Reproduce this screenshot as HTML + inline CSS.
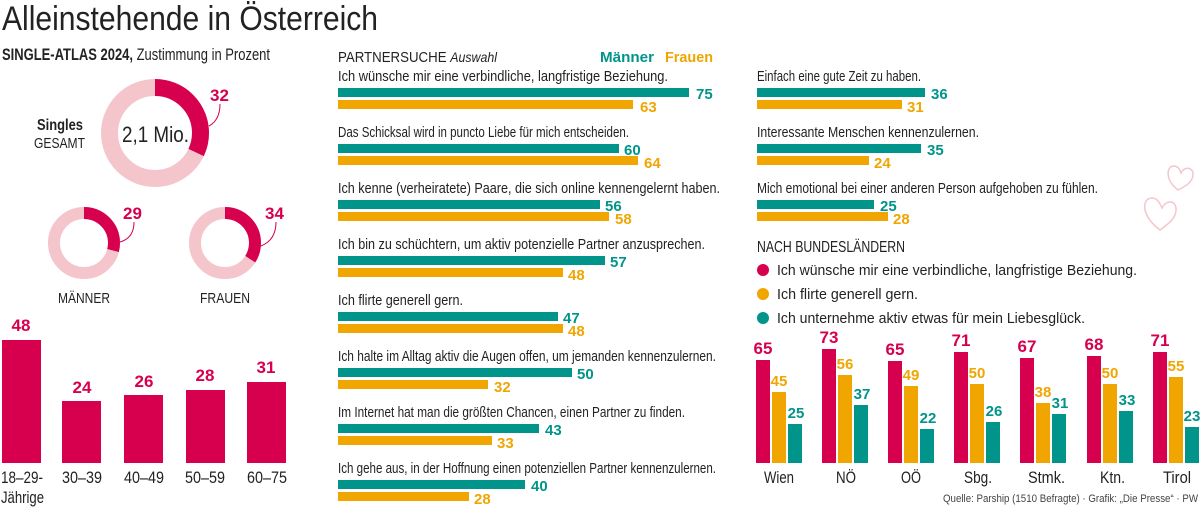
<!DOCTYPE html>
<html><head><meta charset="utf-8"><style>
html,body{margin:0;padding:0;background:#fff;}
svg{display:block;font-family:"Liberation Sans Narrow","Liberation Sans",sans-serif;}
.l{font-size:14px;fill:#222;}
.vt{font-size:15px;font-weight:bold;fill:#00948a;}
.vo{font-size:15px;font-weight:bold;fill:#f0a500;}
.vr{font-size:17px;font-weight:bold;fill:#d6004f;}
</style></head><body>
<svg width="1200" height="507" viewBox="0 0 1200 507">
<text x="2" y="30" font-size="34" fill="#222" textLength="376" lengthAdjust="spacingAndGlyphs">Alleinstehende in Österreich</text>
<text x="2" y="60" font-size="17" fill="#222" textLength="268" lengthAdjust="spacingAndGlyphs"><tspan font-weight="bold">SINGLE-ATLAS 2024,</tspan> Zustimmung in Prozent</text>
<!-- donuts -->
<g fill="none">
<circle cx="155" cy="133" r="45.5" stroke="#f5c5cc" stroke-width="17"/>
<circle cx="155" cy="133" r="45.5" stroke="#d6004f" stroke-width="17" stroke-dasharray="91.5 400" transform="rotate(-90 155 133)"/>
<circle cx="84" cy="243" r="30" stroke="#f5c5cc" stroke-width="12"/>
<circle cx="84" cy="243" r="30" stroke="#d6004f" stroke-width="12" stroke-dasharray="54.7 400" transform="rotate(-90 84 243)"/>
<circle cx="225" cy="243" r="30" stroke="#f5c5cc" stroke-width="12"/>
<circle cx="225" cy="243" r="30" stroke="#d6004f" stroke-width="12" stroke-dasharray="64.1 400" transform="rotate(-90 225 243)"/>
<path d="M209 126 Q220 120 220 104" stroke="#d6004f" stroke-width="1"/>
<path d="M120 242 Q134 238 134 222" stroke="#d6004f" stroke-width="1"/>
<path d="M261 246 Q276 240 276 222" stroke="#d6004f" stroke-width="1"/>
</g>
<text x="210" y="101" class="vr">32</text>
<text x="123" y="219" class="vr">29</text>
<text x="265" y="219" class="vr">34</text>
<text x="122" y="142" font-size="22" fill="#222" textLength="67" lengthAdjust="spacingAndGlyphs">2,1 Mio.</text>
<text x="37" y="130" font-size="16" font-weight="bold" fill="#222" textLength="46" lengthAdjust="spacingAndGlyphs">Singles</text>
<text x="34" y="148" font-size="15" fill="#222" textLength="51" lengthAdjust="spacingAndGlyphs">GESAMT</text>
<text x="58" y="303" font-size="15" fill="#222" textLength="52" lengthAdjust="spacingAndGlyphs">MÄNNER</text>
<text x="200" y="303" font-size="15" fill="#222" textLength="50" lengthAdjust="spacingAndGlyphs">FRAUEN</text>
<!-- age bars -->
<g fill="#d6004f">
<rect x="2" y="340" width="39" height="123"/>
<rect x="62" y="401" width="39" height="62"/>
<rect x="124" y="395" width="39" height="68"/>
<rect x="186" y="390" width="39" height="73"/>
<rect x="247" y="382" width="39" height="81"/>
</g>
<g text-anchor="middle">
<text x="21" y="331" class="vr">48</text><text x="82" y="393" class="vr">24</text><text x="144" y="387" class="vr">26</text><text x="205" y="381" class="vr">28</text><text x="266" y="373" class="vr">31</text>
</g>
<g font-size="17" fill="#222">
<text x="1" y="483" textLength="42" lengthAdjust="spacingAndGlyphs">18–29-</text><text x="1" y="503" textLength="43" lengthAdjust="spacingAndGlyphs">Jährige</text>
<text x="62" y="483" textLength="40" lengthAdjust="spacingAndGlyphs">30–39</text><text x="124" y="483" textLength="40" lengthAdjust="spacingAndGlyphs">40–49</text><text x="185" y="483" textLength="40" lengthAdjust="spacingAndGlyphs">50–59</text><text x="247" y="483" textLength="40" lengthAdjust="spacingAndGlyphs">60–75</text>
</g>
<!-- partnersuche -->
<text x="338" y="62" font-size="15" fill="#222" textLength="159" lengthAdjust="spacingAndGlyphs">PARTNERSUCHE <tspan font-style="italic" font-size="14">Auswahl</tspan></text>
<text x="600" y="62" font-size="15" font-weight="bold" fill="#00948a" textLength="54" lengthAdjust="spacingAndGlyphs">Männer</text>
<text x="665" y="62" font-size="15" font-weight="bold" fill="#f0a500" textLength="48" lengthAdjust="spacingAndGlyphs">Frauen</text>
<g font-size="15" fill="#222">
<text x="338" y="81" textLength="330" lengthAdjust="spacingAndGlyphs">Ich wünsche mir eine verbindliche, langfristige Beziehung.</text>
<text x="338" y="137" textLength="291" lengthAdjust="spacingAndGlyphs">Das Schicksal wird in puncto Liebe für mich entscheiden.</text>
<text x="338" y="193" textLength="382" lengthAdjust="spacingAndGlyphs">Ich kenne (verheiratete) Paare, die sich online kennengelernt haben.</text>
<text x="338" y="249" textLength="367" lengthAdjust="spacingAndGlyphs">Ich bin zu schüchtern, um aktiv potenzielle Partner anzusprechen.</text>
<text x="338" y="305" textLength="125" lengthAdjust="spacingAndGlyphs">Ich flirte generell gern.</text>
<text x="338" y="361" textLength="378" lengthAdjust="spacingAndGlyphs">Ich halte im Alltag aktiv die Augen offen, um jemanden kennenzulernen.</text>
<text x="338" y="417" textLength="347" lengthAdjust="spacingAndGlyphs">Im Internet hat man die größten Chancen, einen Partner zu finden.</text>
<text x="338" y="473" textLength="378" lengthAdjust="spacingAndGlyphs">Ich gehe aus, in der Hoffnung einen potenziellen Partner kennenzulernen.</text>
<text x="757" y="81" textLength="164" lengthAdjust="spacingAndGlyphs">Einfach eine gute Zeit zu haben.</text>
<text x="757" y="137" textLength="222" lengthAdjust="spacingAndGlyphs">Interessante Menschen kennenzulernen.</text>
<text x="757" y="193" textLength="341" lengthAdjust="spacingAndGlyphs">Mich emotional bei einer anderen Person aufgehoben zu fühlen.</text>
</g>
<g fill="#00948a">
<rect x="338" y="88" width="351" height="9"/>
<rect x="338" y="144" width="281" height="9"/>
<rect x="338" y="200" width="262" height="9"/>
<rect x="338" y="256" width="267" height="9"/>
<rect x="338" y="312" width="220" height="9"/>
<rect x="338" y="368" width="234" height="9"/>
<rect x="338" y="424" width="201" height="9"/>
<rect x="338" y="480" width="187" height="9"/>
<rect x="757" y="88" width="168" height="9"/>
<rect x="757" y="144" width="164" height="9"/>
<rect x="757" y="200" width="117" height="9"/>
</g>
<g fill="#f0a500">
<rect x="338" y="100" width="295" height="9"/>
<rect x="338" y="156" width="300" height="9"/>
<rect x="338" y="212" width="271" height="9"/>
<rect x="338" y="268" width="225" height="9"/>
<rect x="338" y="324" width="225" height="9"/>
<rect x="338" y="380" width="150" height="9"/>
<rect x="338" y="436" width="154" height="9"/>
<rect x="338" y="492" width="131" height="9"/>
<rect x="757" y="100" width="145" height="9"/>
<rect x="757" y="156" width="112" height="9"/>
<rect x="757" y="212" width="131" height="9"/>
</g>
<g>
<text x="696" y="99" class="vt">75</text><text x="640" y="112" class="vo">63</text>
<text x="624" y="155" class="vt">60</text><text x="644" y="168" class="vo">64</text>
<text x="605" y="211" class="vt">56</text><text x="615" y="224" class="vo">58</text>
<text x="610" y="267" class="vt">57</text><text x="568" y="280" class="vo">48</text>
<text x="563" y="323" class="vt">47</text><text x="568" y="336" class="vo">48</text>
<text x="577" y="379" class="vt">50</text><text x="494" y="392" class="vo">32</text>
<text x="545" y="435" class="vt">43</text><text x="497" y="448" class="vo">33</text>
<text x="531" y="491" class="vt">40</text><text x="474" y="504" class="vo">28</text>
<text x="931" y="99" class="vt">36</text><text x="907" y="112" class="vo">31</text>
<text x="927" y="155" class="vt">35</text><text x="874" y="168" class="vo">24</text>
<text x="880" y="211" class="vt">25</text><text x="893" y="224" class="vo">28</text>
</g>
<!-- hearts -->
<g fill="none" stroke="#f5c5cc" stroke-width="1.5">
<path d="M1160 230 C1140 215 1142 198 1152 198 C1158 198 1160 204 1162 208 C1166 200 1175 200 1176 208 C1177 218 1168 224 1160 230Z"/>
<path d="M1178 190 C1165 180 1166 166 1174 166 C1178 166 1180 170 1181 173 C1184 166 1193 167 1193 174 C1193 182 1186 186 1178 190Z"/>
</g>
<!-- Bundesländer -->
<text x="757" y="252" font-size="16" fill="#222" textLength="148" lengthAdjust="spacingAndGlyphs">NACH BUNDESLÄNDERN</text>
<circle cx="763" cy="270" r="6" fill="#d6004f"/><text x="777" y="275" font-size="15" fill="#222" textLength="360" lengthAdjust="spacingAndGlyphs">Ich wünsche mir eine verbindliche, langfristige Beziehung.</text>
<circle cx="763" cy="294" r="6" fill="#f0a500"/><text x="777" y="299" font-size="15" fill="#222" textLength="141" lengthAdjust="spacingAndGlyphs">Ich flirte generell gern.</text>
<circle cx="763" cy="318" r="6" fill="#00948a"/><text x="777" y="323" font-size="15" fill="#222" textLength="308" lengthAdjust="spacingAndGlyphs">Ich unternehme aktiv etwas für mein Liebesglück.</text>
<g font-size="17" fill="#222">
<text x="764" y="483" textLength="30" lengthAdjust="spacingAndGlyphs">Wien</text><text x="836" y="483" textLength="20" lengthAdjust="spacingAndGlyphs">NÖ</text><text x="901" y="483" textLength="20" lengthAdjust="spacingAndGlyphs">OÖ</text><text x="964" y="483" textLength="28" lengthAdjust="spacingAndGlyphs">Sbg.</text><text x="1028" y="483" textLength="37" lengthAdjust="spacingAndGlyphs">Stmk.</text><text x="1100" y="483" textLength="25" lengthAdjust="spacingAndGlyphs">Ktn.</text><text x="1163" y="483" textLength="28" lengthAdjust="spacingAndGlyphs">Tirol</text>
</g>
<text x="943" y="502" font-size="11" fill="#444" textLength="255" lengthAdjust="spacingAndGlyphs">Quelle: Parship (1510 Befragte) · Grafik: „Die Presse“ · PW</text>
<g>
<rect x="756" y="360" width="14" height="103" fill="#d6004f"/><rect x="772" y="392" width="14" height="71" fill="#f0a500"/><rect x="788" y="424" width="14" height="39" fill="#00948a"/>
<text x="763" y="354" text-anchor="middle" class="vr">65</text><text x="779" y="386" text-anchor="middle" class="vo">45</text><text x="796" y="418" text-anchor="middle" class="vt">25</text>
<rect x="822" y="349" width="14" height="114" fill="#d6004f"/><rect x="838" y="375" width="14" height="88" fill="#f0a500"/><rect x="854" y="405" width="14" height="58" fill="#00948a"/>
<text x="829" y="343" text-anchor="middle" class="vr">73</text><text x="845" y="369" text-anchor="middle" class="vo">56</text><text x="862" y="399" text-anchor="middle" class="vt">37</text>
<rect x="888" y="361" width="14" height="102" fill="#d6004f"/><rect x="904" y="386" width="14" height="77" fill="#f0a500"/><rect x="920" y="429" width="14" height="34" fill="#00948a"/>
<text x="895" y="355" text-anchor="middle" class="vr">65</text><text x="911" y="380" text-anchor="middle" class="vo">49</text><text x="928" y="423" text-anchor="middle" class="vt">22</text>
<rect x="954" y="352" width="14" height="111" fill="#d6004f"/><rect x="970" y="384" width="14" height="79" fill="#f0a500"/><rect x="986" y="422" width="14" height="41" fill="#00948a"/>
<text x="961" y="346" text-anchor="middle" class="vr">71</text><text x="977" y="378" text-anchor="middle" class="vo">50</text><text x="994" y="416" text-anchor="middle" class="vt">26</text>
<rect x="1020" y="358" width="14" height="105" fill="#d6004f"/><rect x="1036" y="403" width="14" height="60" fill="#f0a500"/><rect x="1052" y="414" width="14" height="49" fill="#00948a"/>
<text x="1027" y="352" text-anchor="middle" class="vr">67</text><text x="1043" y="397" text-anchor="middle" class="vo">38</text><text x="1060" y="408" text-anchor="middle" class="vt">31</text>
<rect x="1087" y="356" width="14" height="107" fill="#d6004f"/><rect x="1103" y="384" width="14" height="79" fill="#f0a500"/><rect x="1119" y="411" width="14" height="52" fill="#00948a"/>
<text x="1094" y="350" text-anchor="middle" class="vr">68</text><text x="1110" y="378" text-anchor="middle" class="vo">50</text><text x="1127" y="405" text-anchor="middle" class="vt">33</text>
<rect x="1153" y="352" width="14" height="111" fill="#d6004f"/><rect x="1169" y="377" width="14" height="86" fill="#f0a500"/><rect x="1185" y="427" width="14" height="36" fill="#00948a"/>
<text x="1160" y="346" text-anchor="middle" class="vr">71</text><text x="1176" y="371" text-anchor="middle" class="vo">55</text><text x="1192" y="421" text-anchor="middle" class="vt">23</text>
</g>
</svg>
</body></html>
